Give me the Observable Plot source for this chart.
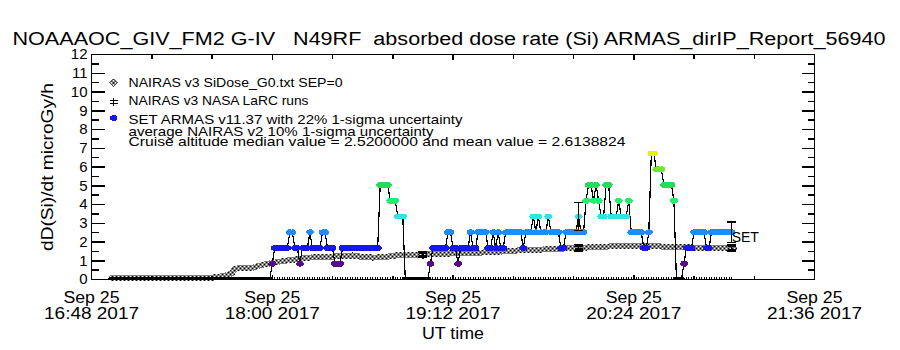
<!DOCTYPE html>
<html><head><meta charset="utf-8">
<script src="https://cdn.jsdelivr.net/npm/d3@7"></script>
<script src="https://cdn.jsdelivr.net/npm/@observablehq/plot@0.6"></script>
<style>
body{margin:0;background:#fff;}
#chart svg{display:block;}
</style></head><body><div id="chart"></div>
<script>
// ---------------- data ----------------
const titleText = "NOAAAOC_GIV_FM2 G-IV   N49RF  absorbed dose rate (Si) ARMAS_dirIP_Report_56940";
const yAxisTitle = "dD(Si)/dt microGy/h";
const xAxisTitle = "UT time";
const startUTC = Date.UTC(2017, 8, 25, 16, 48); // x axis origin
const xDomainMinutes = [0, 288];
const xMajorMinutes = [0, 72, 144, 216, 288];
const xMajorLabels = ["Sep 25\n16:48 2017", "Sep 25\n18:00 2017", "Sep 25\n19:12 2017", "Sep 25\n20:24 2017", "Sep 25\n21:36 2017"];
const xMinorMinutes = [24, 48, 96, 120, 168, 192, 240, 264];
const yDomain = [0, 12];
const yMajor = [0,1,2,3,4,5,6,7,8,9,10,11,12];
const yMinor = [0.5,1.5,2.5,3.5,4.5,5.5,6.5,7.5,8.5,9.5,10.5,11.5];

const legendLabels = [
  "NAIRAS v3 SiDose_G0.txt SEP=0",
  "NAIRAS v3 NASA LaRC runs",
  "SET ARMAS v11.37 with 22% 1-sigma uncertainty",
  "average NAIRAS v2 10% 1-sigma uncertainty",
  "Cruise altitude median value = 2.5200000 and mean value = 2.6138824"
];

// ARMAS: one record per minute from minute 8 (16:56 UT); dose = counts * dosePerCount
const armasStartMinute = 8;
const dosePerCount = 0.84;
const armasUncertainty = 0.22;
const armasCounts = [
  0,0,0,0,0,0,0,0, 0,0,0,0,0,0,0,0, 0,0,0,0,0,0,0,0, 0,0,0,0,0,0,0,0,
  0,0,0,0,0,0,0,0, 0,0,0,0,0,0,0,0, 0,0,0,0,0,0,0,0, 0,0,0,0,0,0,0,0,
  1, 2,2,2,2,2,2, 3,3, 2,2, 1, 2,2,2, 3, 2,2,2,2, 3,3, 2,2,2, 1,1,1,
  2,2,2,2,2,2,2,2,2,2,2,2,2,2,2, 6,6,6,6, 5,5,5, 4,4,4,
  0,0,0,0,0,0,0,0,0,0, 1, 2,2,2,2,2,2, 3,3, 2,2, 1, 2,2,2,2, 3, 2,2, 3,3,3,3, 2,2, 3, 2, 3, 2,2,
  3,3,3,3,3,3,3, 2, 3,3,3, 4, 3, 4, 3,3,3, 4, 3,3,3,3, 2,2, 3,3,3,3,3, 4, 3,3,
  5, 6,6, 5, 6, 5, 4,4, 6,6, 4,4,4, 5, 4,4,4, 5, 3,3,3,3,3, 2,2, 3,
  8,8, 7,7,7, 6,6,6,6, 5, 0,0,0, 1, 2,2,2, 3,3,3,3,3, 2,2, 3,3,3,3,3,3,3,3,3
];

// NAIRAS v3 SiDose_G0 along the flight track
const g0Minutes = [8,12,16,20,24,28,32,36,40,44,48,50,53,56,57,60,64,66,68,72,76,80,84,88,92,96,100,104,108,112,116,120,124,128,132,136,140,144,148,152,156,160,164,168,172,176,180,184,188,192,196,200,204,208,212,216,220,224,228,232,236,240,244,248,252,256];
const g0Dose    = [0.08,0.08,0.08,0.08,0.08,0.08,0.08,0.08,0.08,0.09,0.1,0.12,0.2,0.32,0.58,0.6,0.62,0.7,0.78,0.88,0.98,1.05,1.12,1.18,1.2,1.22,1.26,1.28,1.2,1.17,1.18,1.26,1.33,1.33,1.33,1.34,1.36,1.4,1.42,1.43,1.44,1.46,1.5,1.53,1.57,1.59,1.6,1.62,1.65,1.68,1.7,1.72,1.75,1.77,1.8,1.81,1.8,1.78,1.75,1.72,1.72,1.7,1.7,1.7,1.68,1.68];

// NAIRAS v3 NASA LaRC runs
const larcMinutes = [132, 194, 255];
const larcDose = [1.33, 1.70, 1.68];
const larcUncertainty = 0.10;

// ---------------- helpers ----------------
const at = m => new Date(startUTC + m * 60000);
const countColors = ["#000000","#5a0a8c","#1818ee","#1e8cff","#30e4e4","#20f070","#22dc5a","#70e828","#e0f018"];
const armas = armasCounts.map((c, i) => ({m: armasStartMinute + i, date: at(armasStartMinute + i), v: c * dosePerCount, color: countColors[c]}));
const g0 = g0Minutes.map((m, i) => ({date: at(m), v: g0Dose[i]}));
const larc = larcMinutes.map((m, i) => ({date: at(m), v: larcDose[i]}));
const armasAt = m => armas.find(d => d.m === m);
const armasErr = larcMinutes.map(armasAt).filter(d => d && d.v > 0);
const lastArmas = armas[armas.length - 1];

const lineSym = (x0, y0, x1, y1) => ({draw(c){ c.moveTo(x0, y0); c.lineTo(x1, y1); }});
const hcap = w => lineSym(-w/2, 0, w/2, 0);
const ellipse = (rx, ry) => ({draw(c){
  const k = 0.5523;
  c.moveTo(rx, 0);
  c.bezierCurveTo(rx, ry*k, rx*k, ry, 0, ry);
  c.bezierCurveTo(-rx*k, ry, -rx, ry*k, -rx, 0);
  c.bezierCurveTo(-rx, -ry*k, -rx*k, -ry, 0, -ry);
  c.bezierCurveTo(rx*k, -ry, rx, -ry*k, rx, 0);
  c.closePath();
}});
const hashSym = {draw(c){ c.moveTo(0,-4); c.lineTo(0,4); c.moveTo(-4,-1.5); c.lineTo(4,-1.5); c.moveTo(-4,1.5); c.lineTo(4,1.5); }};
const diamondSym = {draw(c){ c.moveTo(0,-4); c.lineTo(4,0); c.lineTo(0,4); c.lineTo(-4,0); c.closePath(); }};

const F = "Liberation Sans, Arial, sans-serif";
const top0 = 54;
const legendBaselines = [86, 104.5, 123, 135, 145.5];
const legendWidths = [214, 180, 334, 305, 497];

const plot = Plot.plot({
  width: 900, height: 350,
  marginLeft: 91, marginRight: 86, marginTop: 54, marginBottom: 71,
  style: {fontFamily: F, background: "white", color: "black", overflow: "visible"},
  x: {type: "utc", domain: xDomainMinutes.map(at), axis: null},
  y: {domain: yDomain, axis: null},
  color: {type: "identity"},
  marks: [
    // NAIRAS G0 band
    Plot.line(g0, {x: "date", y: "v", stroke: "url(#hatch)", strokeWidth: 6, curve: "linear"}),
    // record rug along the bottom
    Plot.dot(armas.filter(d => d.m >= 72), {x: "date", frameAnchor: "bottom", symbol: lineSym(0,0,0,-3), stroke: "black", fill: "none", strokeWidth: 1}),
    // ARMAS trace
    Plot.line(armas, {x: "date", y: "v", stroke: "black", strokeWidth: 1.2}),
    Plot.dot(armas, {x: "date", y: "v", fill: "color", stroke: "none", symbol: ellipse(4, 3), clip: true}),
    // ARMAS uncertainty bars
    Plot.ruleX(armasErr, {x: "date", y1: d => d.v * (1 - armasUncertainty), y2: d => d.v * (1 + armasUncertainty), stroke: "black", strokeWidth: 1}),
    Plot.dot(armasErr, {x: "date", y: d => d.v * (1 - armasUncertainty), symbol: hcap(9), stroke: "black", fill: "none"}),
    Plot.dot(armasErr, {x: "date", y: d => d.v * (1 + armasUncertainty), symbol: hcap(9), stroke: "black", fill: "none"}),
    // LaRC runs with uncertainty
    Plot.ruleX(larc, {x: "date", y1: d => d.v * (1 - larcUncertainty), y2: d => d.v * (1 + larcUncertainty), stroke: "black"}),
    Plot.dot(larc, {x: "date", y: d => d.v * (1 - larcUncertainty), symbol: hcap(9), stroke: "black", fill: "none"}),
    Plot.dot(larc, {x: "date", y: d => d.v * (1 + larcUncertainty), symbol: hcap(9), stroke: "black", fill: "none"}),
    Plot.dot(larc, {x: "date", y: "v", symbol: hashSym, stroke: "black", fill: "none"}),
    // SET label
    Plot.text([lastArmas], {x: "date", y: "v", text: () => "SET", textAnchor: "start", lineAnchor: "bottom", dx: 0, dy: 10, fontSize: 14}),
    // frame and axes
    Plot.frame({stroke: "black", strokeWidth: 1}),
    Plot.dot(yMajor, {y: d => d, frameAnchor: "left", symbol: lineSym(0,0,13,0), stroke: "black", fill: "none"}),
    Plot.dot(yMinor, {y: d => d, frameAnchor: "left", symbol: lineSym(0,0,7,0), stroke: "black", fill: "none"}),
    Plot.dot(yMajor, {y: d => d, frameAnchor: "right", symbol: lineSym(0,0,-13,0), stroke: "black", fill: "none"}),
    Plot.dot(yMinor, {y: d => d, frameAnchor: "right", symbol: lineSym(0,0,-7,0), stroke: "black", fill: "none"}),
    Plot.dot(xMajorMinutes, {x: at, frameAnchor: "top", symbol: lineSym(0,0,0,5), stroke: "black", fill: "none"}),
    Plot.dot(xMinorMinutes, {x: at, frameAnchor: "top", symbol: lineSym(0,0,0,4), stroke: "black", fill: "none"}),
    Plot.dot(xMajorMinutes, {x: at, frameAnchor: "bottom", symbol: lineSym(0,0,0,-5), stroke: "black", fill: "none"}),
    Plot.dot(xMinorMinutes, {x: at, frameAnchor: "bottom", symbol: lineSym(0,0,0,-4), stroke: "black", fill: "none"}),
    Plot.text(yMajor, {y: d => d, text: d => String(d), frameAnchor: "left", dx: -4, textAnchor: "end", lineAnchor: "middle", fontSize: 15}),
    Plot.text(xMajorMinutes, {x: at, text: (d, i) => xMajorLabels[i], frameAnchor: "bottom", textAnchor: "middle", dy: 12, lineAnchor: "top", lineHeight: 1.0, fontSize: 16}),
    Plot.text([xAxisTitle], {frameAnchor: "bottom", textAnchor: "middle", dy: 59, lineAnchor: "bottom", fontSize: 16}),
    Plot.text([yAxisTitle], {frameAnchor: "left", textAnchor: "middle", dx: -39, rotate: -90, lineAnchor: "bottom", fontSize: 16}),
    // legend
    Plot.dot([0], {frameAnchor: "top-left", dx: 22, dy: 82.3 - top0, symbol: diamondSym, fill: "url(#hatch)", stroke: "#444", strokeWidth: 0.8}),
    Plot.dot([0], {frameAnchor: "top-left", dx: 22, dy: 101.7 - top0, symbol: hashSym, fill: "none", stroke: "black"}),
    Plot.dot([0], {frameAnchor: "top-left", dx: 22, dy: 117.5 - top0, symbol: ellipse(4, 3), fill: "#1818ee", stroke: "none"}),
    Plot.text(legendLabels, {frameAnchor: "top-left", dx: 37, dy: 0, text: d => d, textAnchor: "start", lineAnchor: "bottom", fontSize: 13}),
    // title
    Plot.text([titleText], {frameAnchor: "top-left", dx: 12 - 91, dy: 44 - top0, textAnchor: "start", lineAnchor: "bottom", fontSize: 18})
  ]
});

// cross-hatch pattern for the NAIRAS G0 band
const ns = "http://www.w3.org/2000/svg";
const defs = document.createElementNS(ns, "defs");
defs.innerHTML = '<pattern id="hatch" width="4" height="4" patternUnits="userSpaceOnUse">' +
  '<rect width="4" height="4" fill="#fff"/>' +
  '<rect x="0" y="0" width="1" height="1" fill="#000"/><rect x="1" y="1" width="1" height="1" fill="#000"/>' +
  '<rect x="2" y="2" width="1" height="1" fill="#000"/><rect x="3" y="3" width="1" height="1" fill="#000"/>' +
  '<rect x="3" y="0" width="1" height="1" fill="#000"/><rect x="2" y="1" width="1" height="1" fill="#000"/>' +
  '<rect x="1" y="2" width="1" height="1" fill="#000"/><rect x="0" y="3" width="1" height="1" fill="#000"/></pattern>';
plot.insertBefore(defs, plot.firstChild);
plot.style.shapeRendering = "crispEdges";

const fit = (el, len) => { el.setAttribute("textLength", len); el.setAttribute("lengthAdjust", "spacingAndGlyphs"); };
const texts = Array.from(plot.querySelectorAll("text"));
// legend rows: place each label on its baseline and fit its measured width
legendLabels.forEach((lab, i) => {
  const el = texts.find(t => t.textContent === lab);
  if (!el) return;
  const cur = el.getAttribute("transform") || "";
  el.setAttribute("transform", cur + ` translate(0,${legendBaselines[i] - top0})`);
  fit(el, legendWidths[i]);
});
const titleEl = texts.find(t => t.textContent === titleText);
if (titleEl) {
  titleEl.setAttribute("xml:space", "preserve");
  titleEl.style.whiteSpace = "pre";
  fit(titleEl, 873);
}
// wide plotter-style lettering for axis texts
texts.forEach(t => {
  const spans = t.querySelectorAll("tspan");
  if (spans.length === 2 && spans[0].textContent.startsWith("Sep")) { fit(spans[0], 56); fit(spans[1], 95); }
});
const yTitleEl = texts.find(t => t.textContent === yAxisTitle);
if (yTitleEl) fit(yTitleEl, 168);
const xTitleEl = texts.find(t => t.textContent === xAxisTitle);
if (xTitleEl) fit(xTitleEl, 62);
document.getElementById("chart").appendChild(plot);
</script></body></html>
